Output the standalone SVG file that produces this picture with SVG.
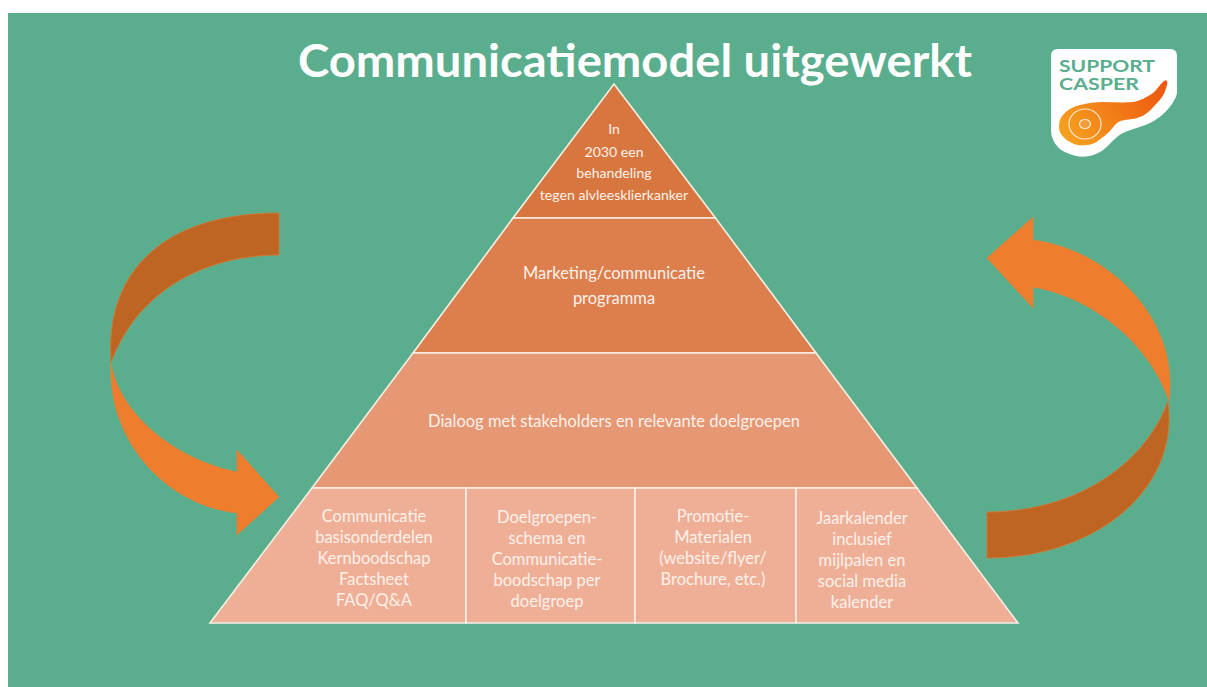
<svg xmlns="http://www.w3.org/2000/svg" width="1207" height="687" viewBox="0 0 1207 687">
<defs>
<linearGradient id="pan" x1="0" y1="0.7" x2="1" y2="0.3"><stop offset="0" stop-color="#F5A01F"/><stop offset="1" stop-color="#EE5A10"/></linearGradient>
</defs>
<style>
text{font-family:"Lato","Carlito","Liberation Sans",sans-serif;text-anchor:middle;fill:#fff}
.l{font-size:16.5px;fill:#FCF1EA}
.s{font-size:14.1px;fill:#FCF1EA}
.c{font-size:17.5px;font-weight:700;fill:#5AAE8E;text-anchor:start}
.tier{stroke:#F6EFE6;stroke-width:1.6}
.bright{fill:#EE7E2E;stroke:#EE7E2E;stroke-width:.5}
.dark{fill:#BF6524;stroke:#D9772F;stroke-width:.8}
</style>
<rect width="1207" height="687" fill="#fff"/>
<rect x="8" y="13" width="1199" height="674" fill="#5AAE8E"/>
<text x="635" y="77" style="font-size:46px;font-weight:700" textLength="674" lengthAdjust="spacingAndGlyphs">Communicatiemodel uitgewerkt</text>
<g id="connectors">
<path class="dark" d="M279 213V255C200 255 135 295 111 363C104 262 175 213 279 213Z"/>
<path class="bright" d="M111 363C118 410 170 458 237 472V450L279 497L237 535V513C165 505 107 440 111 363Z"/>
<path class="bright" d="M987 258L1033 217V240C1110 250 1180 320 1169 401C1150 345 1095 298 1033 287V308Z"/>
<path class="dark" d="M1168 401C1145 465 1075 512 987 512V558C1095 558 1180 490 1168 401Z"/>
</g>
<g id="tier-top"><path class="tier" fill="#D8763F" d="M614 84L715.500 218H513Z"/>
<text class="s" x="614" y="134">In</text><text class="s" x="614" y="157">2030 een</text><text class="s" x="614" y="178">behandeling</text><text class="s" x="614" y="200">tegen alvleesklierkanker</text></g>
<g id="tier-marketing"><path class="tier" fill="#DD7E4D" d="M513 218H715.500L816 353H413Z"/>
<text class="l" x="614" y="279">Marketing/communicatie</text><text class="l" x="614" y="304">programma</text></g>
<g id="tier-dialoog"><path class="tier" fill="#E69773" d="M413 353H816L917 488H312Z"/>
<text class="l" x="614" y="427">Dialoog met stakeholders en relevante doelgroepen</text></g>
<g id="cell-1"><path class="tier" fill="#EFAF97" d="M312 488H466V623H210Z"/>
<text class="l" x="374" y="522">Communicatie</text><text class="l" x="374" y="543">basisonderdelen</text><text class="l" x="374" y="564">Kernboodschap</text><text class="l" x="374" y="585">Factsheet</text><text class="l" x="374" y="606">FAQ/Q&amp;A</text></g>
<g id="cell-2"><path class="tier" fill="#EFAF97" d="M466 488H635V623H466Z"/>
<text class="l" x="547" y="523">Doelgroepen-</text><text class="l" x="547" y="544">schema en</text><text class="l" x="547" y="565">Communicatie-</text><text class="l" x="547" y="586">boodschap per</text><text class="l" x="547" y="607">doelgroep</text></g>
<g id="cell-3"><path class="tier" fill="#EFAF97" d="M635 488H796V623H635Z"/>
<text class="l" x="713" y="522">Promotie-</text><text class="l" x="713" y="543">Materialen</text><text class="l" x="713" y="564">(website/flyer/</text><text class="l" x="713" y="585">Brochure, etc.)</text></g>
<g id="cell-4"><path class="tier" fill="#EFAF97" d="M796 488H917L1018 623H796Z"/>
<text class="l" x="862" y="524">Jaarkalender</text><text class="l" x="862" y="545">inclusief</text><text class="l" x="862" y="566">mijlpalen en</text><text class="l" x="862" y="587">social media</text><text class="l" x="862" y="608">kalender</text></g>
<g id="logo">
<path fill="#fff" d="M1058 49H1170Q1177 49 1177 56V93C1175 103 1163 117 1150 123C1140 128 1125 130 1117 137C1110 143 1107 148 1100 152C1090 158 1078 158 1067 153C1057 149 1051 140 1051 130V56Q1051 49 1058 49Z"/>
<text class="c" x="1059" y="72" textLength="96" lengthAdjust="spacingAndGlyphs">SUPPORT</text>
<text class="c" x="1059" y="90" textLength="80" lengthAdjust="spacingAndGlyphs">CASPER</text>
<path fill="url(#pan)" d="M1164 81C1167 79 1168 82 1167 85C1165 93 1162 98 1157 103C1150 111 1145 116 1137 118C1130 120 1122 119 1117 123C1112 128 1109 133 1103 137C1097 142 1092 145 1087 145C1080 146 1075 145 1070 142C1063 138 1059 133 1059 127C1059 122 1060 118 1063 115C1068 109 1073 107 1080 105C1088 103 1095 102 1103 102C1113 102 1123 103 1133 102C1140 101 1147 97 1153 93C1157 90 1160 84 1164 81Z"/>
<ellipse cx="1085" cy="124" rx="16" ry="15" fill="none" stroke="#FCE9D0" stroke-width="1.200"/>
<ellipse cx="1085" cy="124" rx="5.500" ry="4.500" fill="#F29A3A" stroke="#FCE9D0" stroke-width="1.200"/>
</g>
</svg>
